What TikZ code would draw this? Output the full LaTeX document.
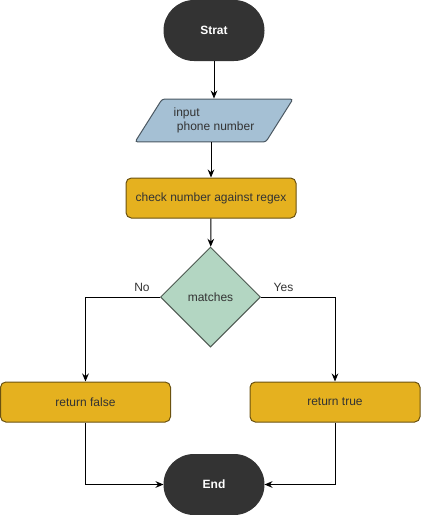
\documentclass[tikz,border=0pt]{standalone}
\usepackage{fontspec}
\setmainfont{Liberation Sans}
\usetikzlibrary{arrows.meta,shapes.geometric}

\definecolor{termfill}{HTML}{333333}
\definecolor{inputfill}{HTML}{A5C0D4}
\definecolor{inputline}{HTML}{4B5862}
\definecolor{procfill}{HTML}{E5B11F}
\definecolor{procline}{HTML}{6B5210}
\definecolor{decfill}{HTML}{B3D6C2}
\definecolor{decline}{HTML}{4E5A52}

\tikzset{every picture/.style={line width=0.75pt}}
\tikzset{
  terminal/.style={draw=termfill,fill=termfill,text=white,font=\fontsize{9}{11}\selectfont\bfseries,rounded corners=22.5pt,minimum width=75pt,minimum height=45pt},
  inputbox/.style={trapezium,trapezium left angle=56,trapezium right angle=124,trapezium stretches=true,draw=inputline,fill=inputfill,rounded corners=2pt,minimum width=118.5pt,minimum height=32.2pt,text=black!80,font=\fontsize{9}{11}\selectfont,align=left},
  procbox/.style={draw=procline,fill=procfill,rounded corners=4pt,minimum width=127.5pt,minimum height=30pt,text=black!80,font=\fontsize{9}{11}\selectfont},
  decision/.style={diamond,draw=decline,fill=decfill,minimum width=75pt,minimum height=75pt,inner sep=0pt,text=black!80,font=\fontsize{9}{11}\selectfont},
  flow/.style={-{Stealth[length=6pt,width=5pt]}},
  lbl/.style={text=black!80,font=\fontsize{9}{11}\selectfont}
}

\begin{document}
\begin{tikzpicture}[x=0.75pt,y=0.75pt,yscale=-1,xscale=1]
	\useasboundingbox (0,0) rectangle (421,515);

	%Shape: Terminator [id:start] 
	\node [terminal] (strat) at (214,30.5) {Strat};
	%Shape: Parallelogram [id:input] 
	\node [inputbox] (input) at (214,120.5) {input\\\ phone number};
	%Shape: Rectangle [id:check] 
	\node [procbox] (check) at (211,198) {check number against regex};
	%Shape: Diamond [id:matches] 
	\node [decision] (matches) at (210.5,297) {matches};
	%Shape: Rectangle [id:false] 
	\node [procbox] (retfalse) at (85.5,402) {return false};
	%Shape: Rectangle [id:true] 
	\node [procbox] (rettrue) at (335,402) {return true};
	%Shape: Terminator [id:end] 
	\node [terminal] (end) at (214,484.5) {End};

	%Straight Lines 
	\draw [flow] (strat) -- (input.north -| strat);
	\draw [flow] (input.south -| check) -- (check);
	\draw [flow] (check) -- (matches);
	\draw [flow] (matches.west) -| (retfalse.north);
	\draw [flow] (matches.east) -| (rettrue.north);
	\draw [flow] (retfalse.south) |- (end.west);
	\draw [flow] (rettrue.south) |- (end.east);

	% Text Node
	\node [lbl] (no) at (142,287) {No};
	% Text Node
	\node [lbl] (yes) at (283.5,287) {Yes};

\end{tikzpicture}
\end{document}
